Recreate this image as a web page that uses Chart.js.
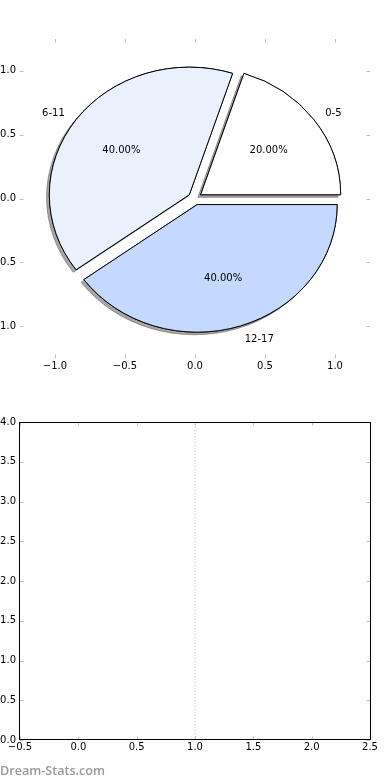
<!DOCTYPE html>
<html>
<head>
<meta charset="utf-8">
<script src="https://cdn.jsdelivr.net/npm/chart.js@4/dist/chart.umd.min.js"></script>
<style>
	body { margin: 0; background: #fff; }
	#page { position: relative; width: 390px; height: 780px; overflow: hidden; }
	canvas { position: absolute; left: 0; }
	#watermark {
		position: absolute; left: 0; top: 762px;
		font-family: 'Open Sans', sans-serif; font-weight: 600; font-size: 12.6px;
		color: #999999;
	}
</style>
</head>
<body>
<div id="page">
	<canvas id="pie-axes" width="390" height="390" style="top:0"></canvas>
	<canvas id="pie-chart" width="390" height="390" style="top:0"></canvas>
	<canvas id="line-chart" width="390" height="390" style="top:390px"></canvas>
	<div id="watermark">Dream-Stats.com</div>
</div>
<script>
// pie data (shares in percent)
const age_groups = ['0-5', '6-11', '12-17'];
const age_shares = [20, 40, 40];
const age_colours = ['#ffffff', '#eaf1fd', '#c5d8fd'];

// pie axes ticks
const pie_ticks = [-1.0, -0.5, 0.0, 0.5, 1.0];

// lower panel
const lower_x_ticks = [-0.5, 0.0, 0.5, 1.0, 1.5, 2.0, 2.5];
const lower_y_ticks = [0.0, 0.5, 1.0, 1.5, 2.0, 2.5, 3.0, 3.5, 4.0];
const marker_x = [1.0];

const EXPLODE = 0.05;
const PIE_RADIUS = 140;
const Y_SQUASH = 127.6 / 140;

Chart.defaults.font.family = "'DejaVu Sans', sans-serif";
Chart.defaults.font.size = 10;
Chart.defaults.color = '#000';
Chart.defaults.animation = false;

function tickLabel(v) {
	return (v < 0 ? '\u2212' : '') + Math.abs(v).toFixed(1);
}

function fixedTicks(values) {
	return function(scale) {
		scale.ticks = values.map(v => ({ value: v }));
	};
}

// small grey tick marks on the inside of all four edges
const inner_ticks = {
	id: 'innerTicks',
	afterDraw(chart, args, opts) {
		const ctx = chart.ctx;
		const a = chart.chartArea;
		const len = 3.5;
		ctx.save();
		ctx.strokeStyle = '#bdbdbd';
		ctx.lineWidth = 1;
		ctx.beginPath();
		chart.scales.x.ticks.forEach(t => {
			const px = Math.round(chart.scales.x.getPixelForValue(t.value)) + 0.5;
			ctx.moveTo(px, a.top); ctx.lineTo(px, a.top + len);
			ctx.moveTo(px, a.bottom); ctx.lineTo(px, a.bottom - len);
		});
		chart.scales.y.ticks.forEach(t => {
			const py = Math.round(chart.scales.y.getPixelForValue(t.value)) + 0.5;
			ctx.moveTo(a.left, py); ctx.lineTo(a.left + len, py);
			ctx.moveTo(a.right, py); ctx.lineTo(a.right - len, py);
		});
		ctx.stroke();
		if (opts.frame) {
			ctx.strokeStyle = '#000';
			ctx.strokeRect(Math.round(a.left) - 0.5, Math.round(a.top) + 0.5,
				Math.round(a.right - a.left) + 1, Math.round(a.bottom - a.top) - 1);
		}
		ctx.restore();
	},
};

// squashes the pie into the axes' aspect, explodes the wedges and adds a shadow
const squashed_pie = {
	id: 'squashedPie',
	beforeDatasetsDraw(chart) {
		const meta = chart.getDatasetMeta(0);
		const ctx = chart.ctx;
		const cx = meta.data[0].x;
		const cy = meta.data[0].y;
		meta.data.forEach(arc => {
			if (arc._exploded) return;
			const draw = arc.draw.bind(arc);
			arc.draw = function(c) {
				const mid = (this.startAngle + this.endAngle) / 2;
				const e = EXPLODE * this.outerRadius;
				c.save();
				c.translate(Math.cos(mid) * e, Math.sin(mid) * e);
				draw(c);
				c.restore();
			};
			arc._exploded = true;
		});
		ctx.save();
		ctx.translate(cx, cy);
		ctx.scale(1, Y_SQUASH);
		ctx.translate(-cx, -cy);
		ctx.shadowColor = 'rgba(60,60,60,0.45)';
		ctx.shadowOffsetX = -2.8;
		ctx.shadowOffsetY = 2.6;
	},
	afterDatasetsDraw(chart) {
		const ctx = chart.ctx;
		const meta = chart.getDatasetMeta(0);
		// second pass without shadow, so only the outline casts it outside
		ctx.shadowColor = 'rgba(0,0,0,0)';
		meta.data.forEach(arc => arc.draw(ctx));
		ctx.restore();

		const labels = chart.data.labels;
		const total = chart.data.datasets[0].data.reduce((acc, v) => acc + v, 0);
		ctx.save();
		ctx.fillStyle = '#000';
		ctx.font = "10px 'DejaVu Sans'";
		ctx.textBaseline = 'middle';
		meta.data.forEach((arc, i) => {
			const mid = (arc.startAngle + arc.endAngle) / 2;
			const r = arc.outerRadius;
			const cos = Math.cos(mid);
			const sin = Math.sin(mid) * Y_SQUASH;
			const lr = (1.1 + EXPLODE) * r;
			ctx.textAlign = cos > 0 ? 'left' : 'right';
			ctx.fillText(labels[i], arc.x + cos * lr, arc.y + sin * lr + 1);
			const pr = (0.6 + EXPLODE) * r;
			const value = chart.data.datasets[0].data[i];
			ctx.textAlign = 'center';
			ctx.fillText((100 * value / total).toFixed(2) + '%', arc.x + cos * pr, arc.y + sin * pr + 1);
		});
		ctx.restore();
	},
};

const no_grid = { display: false, drawTicks: false, tickLength: 0 };

// top axes (no frame, ticks only)
new Chart(document.getElementById('pie-axes').getContext('2d'), {
	type: 'scatter',
	data: { datasets: [{ data: [] }] },
	options: {
		responsive: false,
		events: [],
		layout: { padding: { top: 39, right: 20, left: 0, bottom: 0 } },
		plugins: { legend: { display: false }, tooltip: { enabled: false }, innerTicks: { frame: false } },
		scales: {
			x: {
				min: -1.25, max: 1.25,
				afterBuildTicks: fixedTicks(pie_ticks),
				afterFit(scale) { scale.height = 32; },
				grid: no_grid,
				border: { display: false },
				ticks: { callback: tickLabel, padding: 2, maxRotation: 0 },
			},
			y: {
				min: -1.25, max: 1.25,
				afterBuildTicks: fixedTicks(pie_ticks),
				afterFit(scale) { scale.width = 20; },
				grid: no_grid,
				border: { display: false },
				ticks: { callback: tickLabel, padding: 4 },
			},
		},
	},
	plugins: [inner_ticks],
});

// the pie itself, drawn on top in the same box
new Chart(document.getElementById('pie-chart').getContext('2d'), {
	type: 'pie',
	data: {
		labels: age_groups.slice().reverse(),
		datasets: [{
			data: age_shares.slice().reverse(),
			backgroundColor: age_colours.slice().reverse(),
			borderColor: '#000',
			borderWidth: 1,
			radius: PIE_RADIUS,
		}],
	},
	options: {
		responsive: false,
		events: [],
		rotation: 90,
		layout: { padding: { top: 39, right: 20, left: 20, bottom: 32 } },
		plugins: { legend: { display: false }, tooltip: { enabled: false } },
	},
	plugins: [squashed_pie],
});

// lower panel: empty axes with a dotted marker line
new Chart(document.getElementById('line-chart').getContext('2d'), {
	type: 'scatter',
	data: {
		datasets: marker_x.map(x => ({
			data: [{ x: x, y: lower_y_ticks[0] }, { x: x, y: lower_y_ticks[lower_y_ticks.length - 1] }],
			showLine: true,
			borderColor: '#c4c4c4',
			borderWidth: 1,
			borderDash: [1, 2],
			pointRadius: 0,
		})),
	},
	options: {
		responsive: false,
		events: [],
		layout: { padding: { top: 32, right: 20, left: 0, bottom: 0 } },
		plugins: { legend: { display: false }, tooltip: { enabled: false }, innerTicks: { frame: true } },
		scales: {
			x: {
				min: lower_x_ticks[0], max: lower_x_ticks[lower_x_ticks.length - 1],
				afterBuildTicks: fixedTicks(lower_x_ticks),
				afterFit(scale) { scale.height = 40; },
				grid: no_grid,
				border: { display: false },
				ticks: { callback: tickLabel, padding: 1, maxRotation: 0 },
			},
			y: {
				min: lower_y_ticks[0], max: lower_y_ticks[lower_y_ticks.length - 1],
				afterBuildTicks: fixedTicks(lower_y_ticks),
				afterFit(scale) { scale.width = 20; },
				grid: no_grid,
				border: { display: false },
				ticks: { callback: tickLabel, padding: 4 },
			},
		},
	},
	plugins: [inner_ticks],
});
</script>
</body>
</html>
